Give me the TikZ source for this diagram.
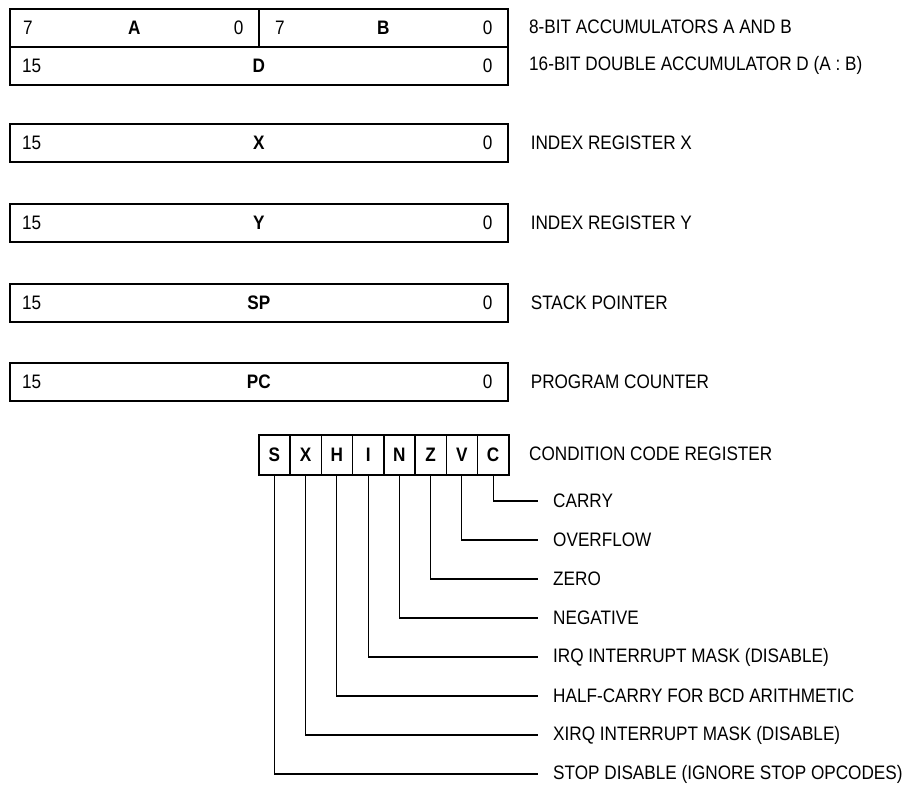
\documentclass[tikz,border=0pt]{standalone}
\usepackage{fontspec}
\setmainfont{Liberation Sans}[FakeStretch=0.88]
\usepackage{tikz}
\usetikzlibrary{positioning,calc}
\newcommand*{\nm}[1]{\textbf{#1}}

\tikzset{
  reg/.style={draw,line width=1.6pt,minimum height=38pt,inner sep=0pt,anchor=north west},
  bit/.style={draw,line width=1.6pt,minimum width=31.25pt,minimum height=40pt,inner sep=0pt,anchor=north west},
  txt/.style={inner sep=0pt,anchor=west},
  lead/.style={line width=1.1pt}
}

\begin{document}
\begin{tikzpicture}[x=1pt,y=-1pt,font=\fontsize{19.5}{22}\selectfont]
\useasboundingbox (0,0) rectangle (912,787);
% Accumulators A and B
\node[reg,minimum width=249pt] (A) at (9,8) {};
\node[reg,minimum width=249pt] (B) at (258,8) {};
\node[txt] (Ahi) at ([xshift=14pt]A.west) {7};
\node (Aname) at (A.center) {\nm{A}};
\node[txt,anchor=east] (Alo) at ([xshift=-16pt]A.east) {0};
\node[txt] (Bhi) at ([xshift=17pt]B.west) {7};
\node (Bname) at (B.center) {\nm{B}};
\node[txt,anchor=east] (Blo) at ([xshift=-16pt]B.east) {0};
\node[txt] (ABtxt) at (529,27) {8-BIT ACCUMULATORS A AND B};
% Double accumulator D
\node[reg,minimum width=498pt] (D) at (9,46) {};
\node[txt] (Dhi) at ([xshift=13pt]D.west) {15};
\node (Dname) at (D.center) {\nm{D}};
\node[txt,anchor=east] (Dlo) at ([xshift=-16pt]D.east) {0};
\node[txt] (Dtxt) at (529,65) {16-BIT DOUBLE ACCUMULATOR D (A : B)};
% 16-bit registers
\foreach \r/\y/\t in {X/123/INDEX REGISTER X,Y/203/INDEX REGISTER Y,
                      SP/283/STACK POINTER,PC/362/PROGRAM COUNTER}{
  \node[reg,minimum width=498pt] (\r) at (9,\y) {};
  \node[txt] (\r hi) at ([xshift=13pt]\r.west) {15};
  \node (\r name) at (\r.center) {\nm{\r}};
  \node[txt,anchor=east] (\r lo) at ([xshift=-16pt]\r.east) {0};
  \node[txt] (\r txt) at ([xshift=22pt]\r.east) {\t};
}
% Condition code register
\foreach \b [count=\i] in {S,X,H,I,N,Z,V,C}
  \node[bit] (ccr\b) at ({258+(\i-1)*31.25},434) {\nm{\b}};
\node[txt] (ccrtxt) at (529,454) {CONDITION CODE REGISTER};
% Bit descriptions
\foreach \b/\k/\t in {C/0/CARRY,V/1/OVERFLOW,Z/2/ZERO,N/3/NEGATIVE,
                      I/4/IRQ INTERRUPT MASK (DISABLE),H/5/HALF-CARRY FOR BCD ARITHMETIC,
                      X/6/XIRQ INTERRUPT MASK (DISABLE),S/7/STOP DISABLE (IGNORE STOP OPCODES)}{
  \node[txt] (lbl\b) at (553,{501+\k*39}) {\t};
  \draw[lead] (ccr\b.south) |- ([xshift=-15pt]lbl\b.west);
}
\end{tikzpicture}
\end{document}
